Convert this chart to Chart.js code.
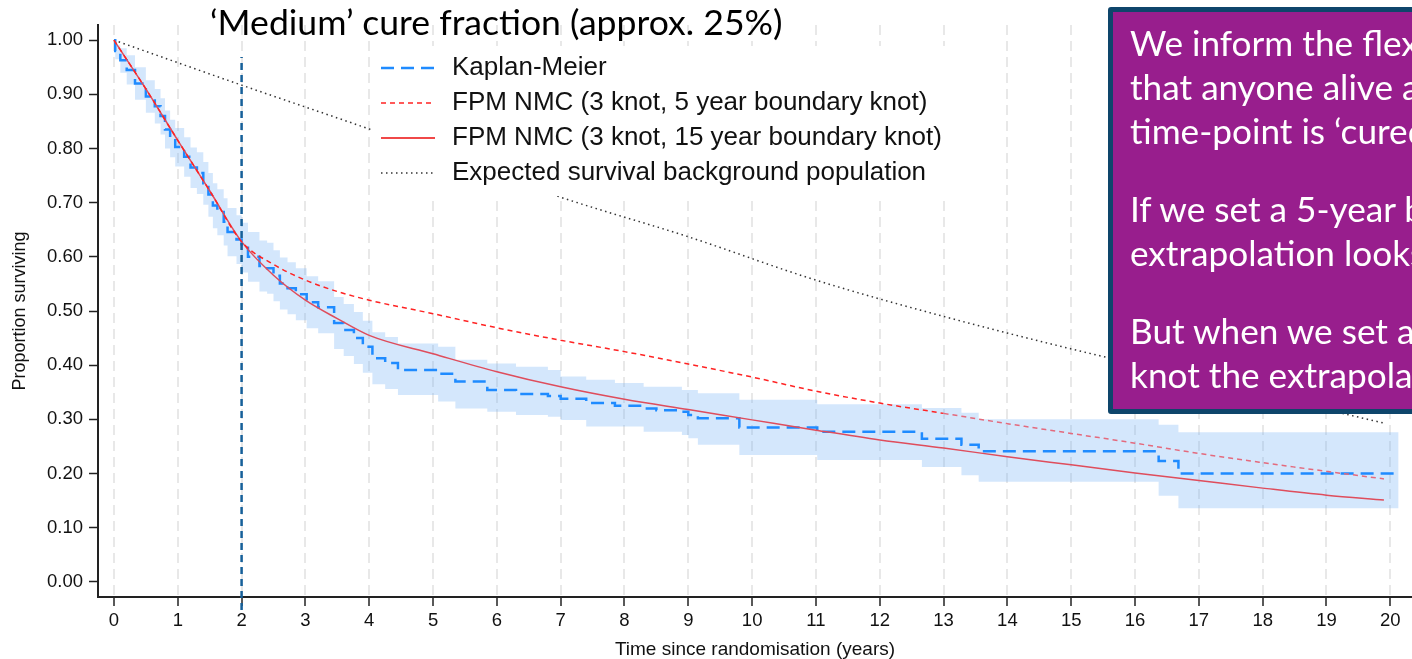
<!DOCTYPE html>
<html>
<head>
<meta charset="utf-8">
<script src="https://cdn.jsdelivr.net/npm/chart.js@4.4.1/dist/chart.umd.min.js"></script>
<style>
body { margin: 0; overflow: hidden; background: #fff; }
#wrap { position: relative; width: 1412px; height: 659px; overflow: hidden; }
#title { position: absolute; left: 210px; top: 0px; font-family: Lato; font-size: 35.6px; line-height: 44px; color: #000; white-space: nowrap; }
#note { position: absolute; left: 1108px; top: 7px; width: 420px; height: 389px; padding-top: 8px; background: #981e8d; border: 5px solid #0e456b; border-radius: 3px; color: #fff; font-family: Lato; font-size: 35.2px; line-height: 44px; }
#note p { margin: 0 0 34px 0; padding-left: 17px; white-space: nowrap; }
</style>
</head>
<body>
<div id="wrap">
  <canvas id="canvas" width="1412" height="659"></canvas>
  <div id="title">‘Medium’ cure fraction (approx. 25%)</div>
  <div id="note">
    <p>We inform the flexible<br>that anyone alive at<br>time-point is ‘cured’</p>
    <p>If we set a 5-year boundary<br>extrapolation looks</p>
    <p>But when we set a<br>knot the extrapolation</p>
  </div>
</div>
<script>
var xTicks = [0, 1, 2, 3, 4, 5, 6, 7, 8, 9, 10, 11, 12, 13, 14, 15, 16, 17, 18, 19, 20];
var yTicks = [0, 0.1, 0.2, 0.3, 0.4, 0.5, 0.6, 0.7, 0.8, 0.9, 1.0];

/* Kaplan-Meier + 95% CI */
var kmTime = [0, 0.02, 0.1, 0.2, 0.33, 0.5, 0.64, 0.73, 0.8, 0.88, 0.96, 1.1, 1.2, 1.3, 1.4, 1.48, 1.55, 1.62, 1.72, 1.78,
    1.92, 2.0, 2.1, 2.28, 2.4, 2.5, 2.6, 2.72, 2.85, 3.02, 3.2, 3.45, 3.6, 3.76, 3.9, 4.05, 4.25, 4.45, 5.08, 5.35,
    5.85, 6.3, 6.8, 7.0, 7.4, 7.85, 8.3, 8.5, 8.9, 9.0, 9.15, 9.8, 11.02, 12.66, 13.28, 13.55, 16.37, 16.68, 20.13];
var kmSurv = [1.0, 0.98, 0.963, 0.945, 0.92, 0.896, 0.878, 0.86, 0.835, 0.819, 0.803, 0.785, 0.765, 0.755, 0.736, 0.715, 0.695, 0.683, 0.665, 0.646,
    0.632, 0.617, 0.6, 0.583, 0.579, 0.565, 0.551, 0.542, 0.531, 0.516, 0.507, 0.478, 0.465, 0.45, 0.434, 0.413, 0.404, 0.391, 0.384, 0.37,
    0.354, 0.347, 0.343, 0.338, 0.33, 0.325, 0.32, 0.317, 0.314, 0.308, 0.302, 0.285, 0.277, 0.264, 0.253, 0.241, 0.223, 0.2, 0.2];
var kmUpper = [1.0, 0.99, 0.985, 0.972, 0.95, 0.926, 0.91, 0.893, 0.87, 0.853, 0.838, 0.821, 0.802, 0.793, 0.775, 0.755, 0.736, 0.725, 0.708, 0.69,
    0.677, 0.663, 0.646, 0.63, 0.626, 0.612, 0.599, 0.59, 0.579, 0.564, 0.555, 0.526, 0.513, 0.498, 0.482, 0.461, 0.452, 0.44, 0.434, 0.41,
    0.403, 0.397, 0.391, 0.379, 0.373, 0.367, 0.36, 0.36, 0.354, 0.354, 0.348, 0.336, 0.328, 0.321, 0.312, 0.30, 0.29, 0.276, 0.276];
var kmLower = [1.0, 0.965, 0.94, 0.918, 0.89, 0.866, 0.846, 0.826, 0.8, 0.784, 0.767, 0.748, 0.727, 0.716, 0.696, 0.674, 0.653, 0.64, 0.621, 0.601,
    0.587, 0.571, 0.554, 0.536, 0.532, 0.518, 0.503, 0.494, 0.483, 0.468, 0.459, 0.43, 0.417, 0.402, 0.386, 0.365, 0.356, 0.345, 0.333, 0.32,
    0.314, 0.308, 0.305, 0.299, 0.287, 0.287, 0.277, 0.277, 0.271, 0.265, 0.253, 0.234, 0.225, 0.212, 0.197, 0.185, 0.159, 0.136, 0.136];

/* FPM NMC, 15 year boundary knot */
var fpm15Time = [0, 0.5, 1, 1.5, 2, 2.5, 3, 3.5, 4, 5, 6, 7, 8, 9, 10, 11, 12, 13, 14, 15, 16, 17, 18, 19, 19.9];
var fpm15Surv = [1.0, 0.91, 0.815, 0.722, 0.628, 0.566, 0.52, 0.486, 0.455, 0.421, 0.388, 0.36, 0.337, 0.318, 0.299, 0.28, 0.262, 0.247, 0.231, 0.216, 0.201, 0.187, 0.173, 0.16, 0.151];

/* FPM NMC, 5 year boundary knot */
var fpm5Time = [0, 0.5, 1, 1.5, 2, 2.5, 3, 3.5, 4, 5, 6, 7, 8, 9, 10, 11, 12, 13, 14, 15, 16, 17, 18, 19, 19.9];
var fpm5Surv = [1.0, 0.91, 0.815, 0.722, 0.628, 0.586, 0.557, 0.536, 0.52, 0.495, 0.469, 0.446, 0.425, 0.402, 0.378, 0.352, 0.33, 0.311, 0.292, 0.274, 0.256, 0.237, 0.22, 0.204, 0.19];

/* Expected survival of background population */
var expTime = [0, 2, 4, 7, 9, 11, 13, 15, 17, 19, 19.9];
var expSurv = [1.0, 0.917, 0.836, 0.71, 0.637, 0.557, 0.49, 0.43, 0.375, 0.318, 0.293];

/* cure time-point marker */
var markerTime = [2, 2];
var markerY = [-0.052, 0.969];

var legendLabels = ['Kaplan-Meier', 'FPM NMC (3 knot, 5 year boundary knot)', 'FPM NMC (3 knot, 15 year boundary knot)', 'Expected survival background population'];

function pts(xs, ys) {
    var out = [];
    for (var i = 0; i < xs.length; i++) {
        out.push({x: xs[i], y: ys[i]});
    }
    return out;
}

var kmColor = '#1f8bff';
var redSolid = '#df4d5c';
var redDash = '#ff2323';
var redDashLate = '#e46a7d';

var legendBox = {
    id: 'legendBox',
    afterDatasetsDraw: function (chart) {
        var ctx = chart.ctx;
        var styles = [
            {color: kmColor, width: 2.5, dash: [13, 7]},
            {color: redDash, width: 1.5, dash: [5, 4]},
            {color: '#f04848', width: 2, dash: []},
            {color: '#333', width: 1.5, dash: [1.5, 3.5]}
        ];
        ctx.save();
        ctx.fillStyle = '#fff';
        ctx.fillRect(371, 46, 586, 150);
        ctx.font = '26px "Liberation Sans", Arial, sans-serif';
        ctx.textBaseline = 'middle';
        for (var i = 0; i < legendLabels.length; i++) {
            var y = 68 + i * 35;
            ctx.beginPath();
            ctx.setLineDash(styles[i].dash);
            ctx.lineWidth = styles[i].width;
            ctx.strokeStyle = styles[i].color;
            ctx.moveTo(381, y);
            ctx.lineTo(435, y);
            ctx.stroke();
            ctx.setLineDash([]);
            ctx.fillStyle = '#111';
            ctx.fillText(legendLabels[i], 452, y);
        }
        ctx.restore();
    }
};

var tickFont = {family: '"Liberation Sans", Arial, sans-serif', size: 18.5};

var ctx = document.getElementById('canvas').getContext('2d');

var canvas = new Chart(ctx, {
    type: 'line',
    data: {
        datasets: [
            {
                label: 'marker',
                data: pts(markerTime, markerY),
                borderColor: '#16609a',
                borderWidth: 2.5,
                borderDash: [7, 5],
                pointRadius: 0,
                clip: false,
                order: 0
            },
            {
                label: legendLabels[1],
                data: pts(fpm5Time, fpm5Surv),
                borderColor: redDash,
                borderWidth: 1.5,
                borderDash: [5, 4],
                pointRadius: 0,
                cubicInterpolationMode: 'monotone',
                segment: {
                    borderColor: function (c) { return c.p0.parsed.x >= 13 ? redDashLate : redDash; }
                },
                order: 1
            },
            {
                label: legendLabels[2],
                data: pts(fpm15Time, fpm15Surv),
                borderColor: redSolid,
                borderWidth: 1.5,
                pointRadius: 0,
                cubicInterpolationMode: 'monotone',
                order: 2
            },
            {
                label: legendLabels[0],
                data: pts(kmTime, kmSurv),
                borderColor: kmColor,
                borderWidth: 2.5,
                borderDash: [13, 7],
                stepped: true,
                pointRadius: 0,
                order: 3
            },
            {
                label: legendLabels[3],
                data: pts(expTime, expSurv),
                borderColor: '#333',
                borderWidth: 1.5,
                borderDash: [1.5, 3.5],
                pointRadius: 0,
                cubicInterpolationMode: 'monotone',
                order: 4
            },
            {
                label: 'upper',
                data: pts(kmTime, kmUpper),
                borderWidth: 0,
                borderColor: 'rgba(0,0,0,0)',
                backgroundColor: 'rgba(120,180,245,0.32)',
                fill: '+1',
                stepped: true,
                pointRadius: 0,
                order: 10
            },
            {
                label: 'lower',
                data: pts(kmTime, kmLower),
                borderWidth: 0,
                borderColor: 'rgba(0,0,0,0)',
                fill: false,
                stepped: true,
                pointRadius: 0,
                order: 11
            }
        ]
    },
    options: {
        responsive: false,
        animation: false,
        layout: {padding: {top: 25, right: 0, left: 0, bottom: 0}},
        plugins: {
            legend: {display: false},
            tooltip: {enabled: false}
        },
        scales: {
            x: {
                type: 'linear',
                min: -0.25,
                max: 20.34,
                afterBuildTicks: function (scale) {
                    scale.ticks = xTicks.map(function (v) { return {value: v}; });
                },
                afterFit: function (scale) { scale.height = 62; },
                ticks: {
                    font: tickFont,
                    color: '#111',
                    padding: 4,
                    maxRotation: 0,
                    autoSkip: false
                },
                grid: {
                    color: '#e8e8e8',
                    lineWidth: 2,
                    tickColor: '#222',
                    tickWidth: 1.5,
                    tickLength: 9
                },
                border: {color: '#222', width: 2, dash: [10, 6]},
                title: {
                    display: true,
                    text: 'Time since randomisation (years)',
                    font: {family: '"Liberation Sans", Arial, sans-serif', size: 19, lineHeight: 1},
                    color: '#111',
                    padding: {top: 0, bottom: 0}
                }
            },
            y: {
                type: 'linear',
                min: -0.028,
                max: 1.028,
                afterBuildTicks: function (scale) {
                    scale.ticks = yTicks.map(function (v) { return {value: v}; });
                },
                afterFit: function (scale) { scale.width = 98; },
                ticks: {
                    font: tickFont,
                    color: '#111',
                    padding: 6,
                    callback: function (v) { return v.toFixed(2); }
                },
                grid: {
                    drawOnChartArea: false,
                    tickColor: '#222',
                    tickWidth: 1.5,
                    tickLength: 9
                },
                border: {color: '#222', width: 2},
                title: {
                    display: true,
                    text: 'Proportion surviving',
                    font: {family: '"Liberation Sans", Arial, sans-serif', size: 18, lineHeight: 1},
                    color: '#111',
                    padding: {top: 11, bottom: 0}
                }
            }
        }
    },
    plugins: [legendBox]
});
</script>
</body>
</html>
